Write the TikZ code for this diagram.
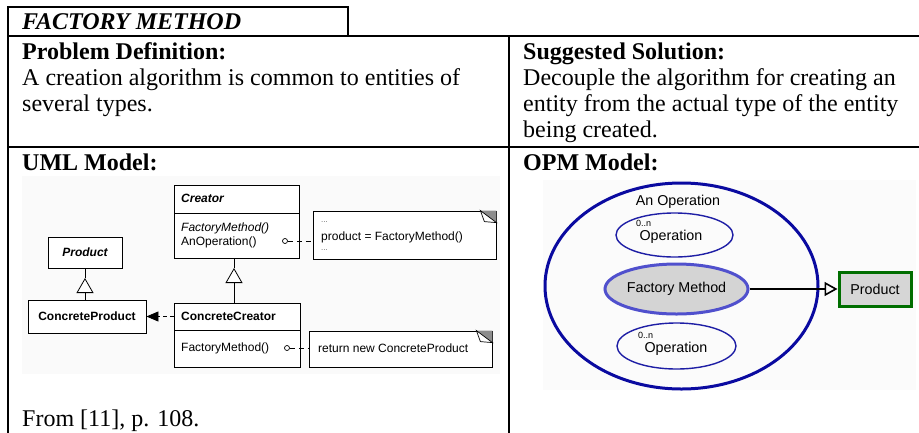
\documentclass[tikz,border=0pt]{standalone}
\usepackage{fontspec}
\setmainfont{Liberation Serif}
\setsansfont{Liberation Sans}
\usetikzlibrary{arrows.meta,shapes.geometric}

\definecolor{opmnavy}{RGB}{10,10,160}
\definecolor{opmthin}{RGB}{30,30,165}
\definecolor{opmproc}{RGB}{80,80,205}
\definecolor{opmgreen}{RGB}{0,110,0}
\definecolor{procfill}{RGB}{212,212,212}
\definecolor{objfill}{RGB}{214,214,214}

\tikzset{
  tbl/.style={line width=2pt, line cap=rect},
  txt/.style={anchor=base west, inner sep=0pt, font=\fontsize{24}{26}\selectfont},
  umlbox/.style={draw, line width=0.8pt, fill=white, inner sep=0pt},
  umltxt/.style={inner sep=0pt, font=\sffamily\fontsize{12}{14}\selectfont},
  ellip/.style={inner sep=0pt, text=black!60, font=\sffamily\fontsize{8}{8}\selectfont},
  notebox/.style={draw, line width=0.8pt, fill=white, inner sep=0pt},
  inherit/.style={line width=0.8pt, -{Triangle[open, length=15pt, width=17pt, fill=white]}},
  dotnode/.style={circle, draw, line width=0.7pt, fill=white, inner sep=0pt, minimum size=5pt},
  opmtxt/.style={inner sep=0pt, font=\sffamily\fontsize{14.3}{16}\selectfont},
  mult/.style={inner sep=0pt, font=\sffamily\fontsize{9}{10}\selectfont}
}

\begin{document}
\begin{tikzpicture}[x=1pt, y=-1pt]
\useasboundingbox (0,0) rectangle (919,432);

% light backdrops behind the two model pictures
\fill[black!2] (22,176) rectangle (500,374);
\fill[black!1.5] (543,180) rectangle (916,390);

% ---------- table frame ----------
\draw[tbl] (8,432) -- (8,7) -- (348,7) -- (348,36);
\draw[tbl] (8,36) -- (919,36);
\draw[tbl] (8,147) -- (919,147);
\draw[tbl] (509,36) -- (509,432);

% ---------- table text ----------
\node[txt, font=\fontsize{24}{26}\selectfont\bfseries\itshape] (title) at (22,29.5) {FACTORY METHOD};
\node[txt, font=\fontsize{24}{26}\selectfont\bfseries] (pdh) at (22,59.3) {Problem Definition:};
\node[txt] (pd1) at (22,85.3) {A creation algorithm is common to entities of};
\node[txt] (pd2) at (22,111.3) {several types.};
\node[txt, font=\fontsize{24}{26}\selectfont\bfseries] (ssh) at (523,59.3) {Suggested Solution:};
\node[txt] (ss1) at (523,85.3) {Decouple the algorithm for creating an};
\node[txt] (ss2) at (523,111.3) {entity from the actual type of the entity};
\node[txt] (ss3) at (523,137.3) {being created.};
\node[txt, font=\fontsize{24}{26}\selectfont\bfseries] (umlh) at (22,170.5) {UML Model:};
\node[txt, font=\fontsize{24}{26}\selectfont\bfseries] (opmh) at (523,170.5) {OPM Model:};
\node[txt] (src) at (22,426) {From [11], p. 108.};

% ---------- UML class diagram ----------
% Creator
\node[umlbox, minimum width=125pt, minimum height=28pt] (crH) at (236.5,199) {};
\node[umlbox, minimum width=125pt, minimum height=45pt] (crB) at (236.5,235.5) {};
\node[umltxt, anchor=west, font=\sffamily\fontsize{12}{14}\selectfont\bfseries\itshape] at (181,198.5) {Creator};
\node[umltxt, anchor=west, font=\sffamily\fontsize{12}{14}\selectfont\itshape] at (181,228) {FactoryMethod()};
\node[umltxt, anchor=west] (anop) at (181,242) {AnOperation()};

% Product
\node[umlbox, minimum width=74pt, minimum height=31pt,
      font=\sffamily\fontsize{12}{14}\selectfont\bfseries\itshape] (prod) at (85,252.5) {Product};

% ConcreteProduct
\node[umlbox, minimum width=118pt, minimum height=33pt,
      font=\sffamily\fontsize{12}{14}\selectfont\bfseries] (cprod) at (87,316.5) {ConcreteProduct};

% ConcreteCreator
\node[umlbox, minimum width=126pt, minimum height=27pt] (ccH) at (237,316.5) {};
\node[umlbox, minimum width=126pt, minimum height=37pt] (ccB) at (237,348.5) {};
\node[umltxt, anchor=west, font=\sffamily\fontsize{12}{14}\selectfont\bfseries] at (181,316.5) {ConcreteCreator};
\node[umltxt, anchor=west] at (181,348.5) {FactoryMethod()};

% inheritance
\coordinate (tp) at (85,278);
\draw[inherit] (cprod.north -| tp) -- (tp);
\draw[line width=0.8pt] (tp) -- (prod.south -| tp);
\coordinate (tc) at (234,268);
\draw[inherit] (ccH.north -| tc) -- (tc);
\draw[line width=0.8pt] (tc) -- (crB.south -| tc);

% instantiation
\draw[line width=0.8pt, dash pattern=on 4pt off 3pt,
      -{Triangle[length=12pt, width=10pt]}] (ccH.west) -- (cprod.east);

% notes
\node[notebox, minimum width=183pt, minimum height=48pt] (note1) at (404.5,235) {};
\node[ellip, anchor=west] at (321,222) {...};
\node[umltxt, anchor=west] at (321,237) {product = FactoryMethod()};
\node[ellip, anchor=west] at (321,250.5) {...};
\node[notebox, minimum width=183pt, minimum height=36pt] (note2) at (400.5,349) {};
\node[umltxt, anchor=west] at (318,348.5) {return new ConcreteProduct};

% folded corners
\foreach \n in {note1,note2}{
  \fill[black!45] ([xshift=-16pt]\n.north east) -- (\n.north east) -- ([yshift=-12pt]\n.north east) -- cycle;
  \draw[line width=0.7pt, fill=white] ([xshift=-16pt]\n.north east) -- ([xshift=-12pt,yshift=-11pt]\n.north east)
      -- ([yshift=-12pt]\n.north east) -- cycle;
}

% note attachments
\node[dotnode] (d1) at (285,241) {};
\draw[line width=0.8pt, dash pattern=on 5pt off 4pt] (d1) -- (note1.west |- d1);
\node[dotnode] (d2) at (287,348) {};
\draw[line width=0.8pt, dash pattern=on 5pt off 4pt] (d2) -- (note2.west |- d2);

% ---------- OPM diagram ----------
\node[ellipse, draw=opmnavy, line width=3pt, minimum width=273pt, minimum height=206pt, inner sep=0pt] (outer) at (681.5,286) {};
\node[opmtxt] (anopm) at (678,202) {An Operation};

\node[ellipse, draw=opmthin, line width=1.4pt, minimum width=117pt, minimum height=44pt, inner sep=0pt] (op1) at (674.5,235) {};
\node[mult, anchor=west] at (636,223) {0..n};
\node[opmtxt] at (671,237) {Operation};

\node[ellipse, draw=opmproc, fill=procfill, line width=3pt, minimum width=143pt, minimum height=50pt, inner sep=0pt,
      font=\sffamily\fontsize{14.3}{16}\selectfont] (fm) at (676.5,289) {Factory Method};

\node[ellipse, draw=opmthin, line width=1.4pt, minimum width=119pt, minimum height=46pt, inner sep=0pt] (op2) at (676.5,346) {};
\node[mult, anchor=west] at (638,335) {0..n};
\node[opmtxt] at (676,349) {Operation};

\node[draw=opmgreen, fill=objfill, line width=3pt, minimum width=72pt, minimum height=34pt, inner sep=0pt,
      font=\sffamily\fontsize{14.3}{16}\selectfont] (obj) at (875,289) {Product};

\draw[line width=2.6pt, -{Triangle[open, length=13pt, width=14pt, line width=1.6pt]}] (fm.east) -- (obj.west);
\end{tikzpicture}
\end{document}
